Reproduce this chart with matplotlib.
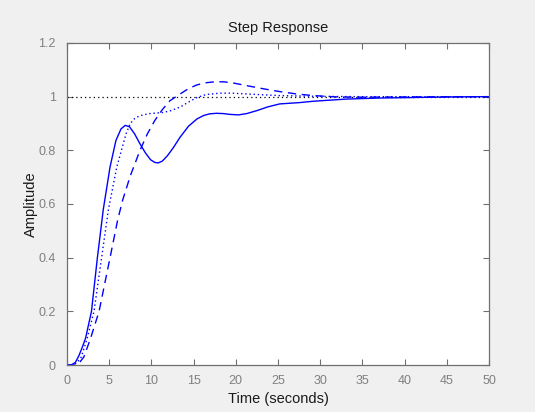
import matplotlib
matplotlib.use("Agg")
import matplotlib.pyplot as plt

plt.rcParams['font.family'] = ['Liberation Sans', 'DejaVu Sans']

# Series (time in s, amplitude)
t_solid = [0, 0.5, 1.0, 1.4, 1.8, 2.2, 2.9, 3.6, 4.3, 5.1, 5.8, 6.4, 6.9, 7.4, 8.0,
           8.65, 9.3, 9.9, 10.4, 10.8, 11.3, 11.9, 12.6, 13.4, 14.4, 15.4, 16.2,
           16.9, 17.7, 18.5, 19.3, 20.3, 21.3, 22.5, 23.8, 25.2, 27.6, 29.2, 33.1,
           37.1, 39.5, 45.0, 50.0]
v_solid = [0, 0.0, 0.01, 0.034, 0.065, 0.10, 0.20, 0.40, 0.58, 0.738, 0.837, 0.88,
           0.893, 0.888, 0.862, 0.824, 0.79, 0.765, 0.755, 0.753, 0.76, 0.78, 0.81,
           0.849, 0.89, 0.917, 0.930, 0.936, 0.938, 0.937, 0.934, 0.932, 0.937,
           0.948, 0.962, 0.973, 0.978, 0.983, 0.991, 0.995, 0.996, 0.999, 1.0]

t_dotted = [0, 0.8, 1.2, 1.7, 2.4, 3.2, 4.1, 4.9, 5.9, 7.0, 7.5, 8.0, 8.5, 9.0, 9.8,
            10.6, 11.4, 12.3, 13.4, 14.4, 15.4, 16.5, 18.1, 19.6, 21.3, 23.2, 25.2,
            30.0, 35.0, 50.0]
v_dotted = [0, 0.0, 0.01, 0.03, 0.10, 0.20, 0.40, 0.578, 0.738, 0.862, 0.900, 0.918,
            0.927, 0.932, 0.937, 0.939, 0.941, 0.948, 0.961, 0.980, 0.997, 1.008,
            1.013, 1.013, 1.010, 1.007, 1.004, 1.001, 1.0, 1.0]

t_dashed = [0, 1.0, 1.5, 2.0, 2.8, 3.8, 5.1, 6.0, 6.6, 7.5, 8.65, 9.5, 10.4, 11.3,
            12.2, 13.4, 14.4, 15.4, 16.5, 17.7, 18.7, 19.7, 21.3, 23.5, 25.2, 27.2,
            29.2, 32.0, 35.0, 40.0, 50.0]
v_dashed = [0, 0.0, 0.01, 0.03, 0.10, 0.20, 0.40, 0.54, 0.615, 0.705, 0.80, 0.86,
            0.911, 0.952, 0.985, 1.01, 1.030, 1.044, 1.052, 1.056, 1.055, 1.051,
            1.041, 1.028, 1.019, 1.010, 1.004, 0.999, 0.998, 0.999, 1.0]

ref_t = [0, 50]
ref_v = [1, 1]

x_ticks = [0, 5, 10, 15, 20, 25, 30, 35, 40, 45, 50]
y_ticks = [0, 0.2, 0.4, 0.6, 0.8, 1.0, 1.2]
y_tick_labels = ['0', '0.2', '0.4', '0.6', '0.8', '1', '1.2']

fig = plt.figure(figsize=(5.35, 4.12), dpi=100, facecolor='#f0f0f0')
ax = fig.add_axes([67/535, 47/412, 422/535, 322/412])
ax.set_facecolor('white')

ax.plot(ref_t, ref_v, color='black', linestyle=(0, (1, 2.5)), linewidth=0.9)
ax.plot(t_solid, v_solid, color='#0000ff', linestyle='-', linewidth=1.0)
ax.plot(t_dotted, v_dotted, color='#0000ff', linestyle=(0, (1, 2)), linewidth=1.0)
ax.plot(t_dashed, v_dashed, color='#0000ff', linestyle=(0, (6, 4)), linewidth=1.0)

ax.set_xlim(0, 50)
ax.set_ylim(0, 1.2)
ax.set_xticks(x_ticks)
ax.set_yticks(y_ticks)
ax.set_yticklabels(y_tick_labels)

spine_col = '#707070'
for s in ax.spines.values():
    s.set_color(spine_col)
    s.set_linewidth(0.9)
ax.tick_params(direction='in', length=4, width=0.8, color=spine_col,
               top=True, right=True, labelsize=9, labelcolor='#808080')
ax.tick_params(axis='y', pad=8)
ax.tick_params(axis='x', pad=7)

ax.set_title('Step Response', fontsize=10.5, color='#1a1a1a', pad=8)
ax.set_xlabel('Time (seconds)', fontsize=10.5, color='#1a1a1a', labelpad=4)
ax.set_ylabel('Amplitude', fontsize=10.5, color='#1a1a1a')
ax.yaxis.set_label_coords(-0.068, 0.5)

fig.savefig('out.png', dpi=100, facecolor=fig.get_facecolor())
